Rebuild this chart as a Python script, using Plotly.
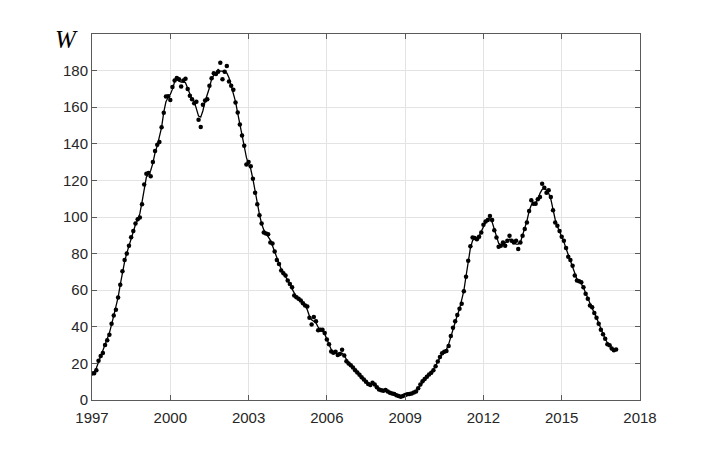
import plotly.graph_objects as go
import pandas as pd

# monthly values, Jan 1997 .. Feb 2017
w_1997 = [14.5, 14.6, 16.3, 21.4, 24.0, 25.7, 30.0, 32.6, 35.7, 41.7, 46.2, 49.3]
w_1998 = [56.0, 63.0, 70.3, 76.5, 80.0, 84.3, 89.0, 92.4, 96.4, 98.8, 99.7, 107.0]
w_1999 = [117.8, 123.6, 124.0, 122.3, 130.0, 136.0, 139.5, 141.0, 149.0, 157.0, 165.9, 166.0]
w_2000 = [164.0, 171.0, 174.6, 176.0, 175.3, 171.3, 174.6, 175.6, 170.0, 166.2, 164.4, 162.2]
w_2001 = [163.0, 153.2, 149.2, 161.3, 163.7, 164.4, 171.7, 175.8, 178.5, 178.2, 179.4, 184.3]
w_2002 = [175.3, 179.4, 182.5, 174.0, 171.7, 169.5, 162.6, 157.1, 150.5, 144.5, 139.0, 128.7]
w_2003 = [130.0, 127.8, 120.9, 113.3, 107.0, 101.0, 96.4, 91.5, 91.0, 90.6, 86.1, 85.5]
w_2004 = [81.2, 76.5, 74.3, 70.7, 69.2, 68.0, 65.3, 63.4, 61.6, 57.1, 56.2, 55.3]
w_2005 = [54.4, 52.9, 51.7, 51.1, 45.0, 41.3, 45.3, 43.1, 38.1, 38.4, 38.4, 36.6]
w_2006 = [33.0, 30.5, 26.5, 25.8, 26.3, 24.6, 25.2, 27.5, 24.3, 21.2, 20.0, 19.0]
w_2007 = [17.8, 16.3, 15.0, 13.8, 12.5, 11.2, 10.0, 8.7, 8.2, 9.4, 8.5, 6.9]
w_2008 = [5.8, 5.3, 5.0, 5.4, 4.6, 4.0, 3.6, 3.3, 2.6, 2.2, 1.8, 2.2]
w_2009 = [2.7, 3.1, 3.3, 3.6, 4.1, 4.6, 6.4, 8.5, 10.2, 11.5, 12.7, 14.0]
w_2010 = [14.9, 16.3, 18.5, 21.0, 23.5, 25.5, 26.3, 26.8, 29.5, 35.0, 39.5, 43.0]
w_2011 = [46.5, 49.9, 52.6, 59.4, 67.4, 76.1, 84.0, 88.8, 88.5, 87.9, 89.2, 91.5]
w_2012 = [95.7, 97.5, 98.3, 100.6, 98.3, 92.8, 88.8, 83.7, 84.3, 86.1, 84.3, 87.0]
w_2013 = [89.7, 87.0, 86.1, 87.0, 82.5, 86.1, 89.7, 93.4, 97.0, 103.3, 109.1, 107.3]
w_2014 = [107.3, 109.7, 110.9, 118.2, 116.0, 113.3, 114.6, 110.9, 103.7, 97.0, 95.2, 92.4]
w_2015 = [89.2, 87.0, 83.0, 78.3, 76.5, 73.4, 68.0, 65.3, 64.9, 64.3, 61.6, 58.0]
w_2016 = [55.3, 51.7, 50.7, 47.5, 45.0, 41.7, 38.4, 35.9, 33.5, 30.5, 29.9, 28.1]
w_2017 = [27.2, 27.6]

w = (w_1997 + w_1998 + w_1999 + w_2000 + w_2001 + w_2002 + w_2003 + w_2004
     + w_2005 + w_2006 + w_2007 + w_2008 + w_2009 + w_2010 + w_2011 + w_2012
     + w_2013 + w_2014 + w_2015 + w_2016 + w_2017)
t = [1997 + i / 12 for i in range(len(w))]

x_ticks = [1997, 2000, 2003, 2006, 2009, 2012, 2015, 2018]
y_ticks = [0, 20, 40, 60, 80, 100, 120, 140, 160, 180]

# smoothed curve drawn through the monthly points
w_smooth = pd.Series(w).rolling(3, center=True, min_periods=1).mean()

fig = go.Figure()
fig.add_trace(go.Scatter(x=t, y=w_smooth, mode='lines',
                         line=dict(color='black', width=1.3)))
fig.add_trace(go.Scatter(x=t, y=w, mode='markers',
                         marker=dict(color='black', size=4.5)))

axis_style = dict(
    showgrid=True, gridcolor='#e3e3e3', gridwidth=1,
    zeroline=False, showline=True, linecolor='#5a5a5a', linewidth=1,
    mirror='ticks', ticks='inside', ticklen=5, tickcolor='#5a5a5a',
    tickfont=dict(family='Liberation Sans, Arial', size=15, color='#262626'),
)

# page body adds an 8px margin, so the figure is 8px smaller each way
fig.update_layout(
    width=700, height=442,
    margin=dict(l=84, r=68, t=26, b=50),
    paper_bgcolor='white', plot_bgcolor='white',
    showlegend=False,
    xaxis=dict(range=[1997, 2018], tickvals=x_ticks, ticklabelstandoff=4,
               **axis_style),
    yaxis=dict(range=[0, 200], tickvals=y_ticks + [200],
               ticktext=[str(v) for v in y_ticks] + [''], **axis_style),
    annotations=[dict(
        text='W', xref='paper', yref='paper', x=-0.047, y=0.985,
        xanchor='center', yanchor='middle', showarrow=False,
        font=dict(family='Liberation Serif, Times New Roman', size=25,
                  color='black', style='italic'),
    )],
)

fig.write_html("out.html")
